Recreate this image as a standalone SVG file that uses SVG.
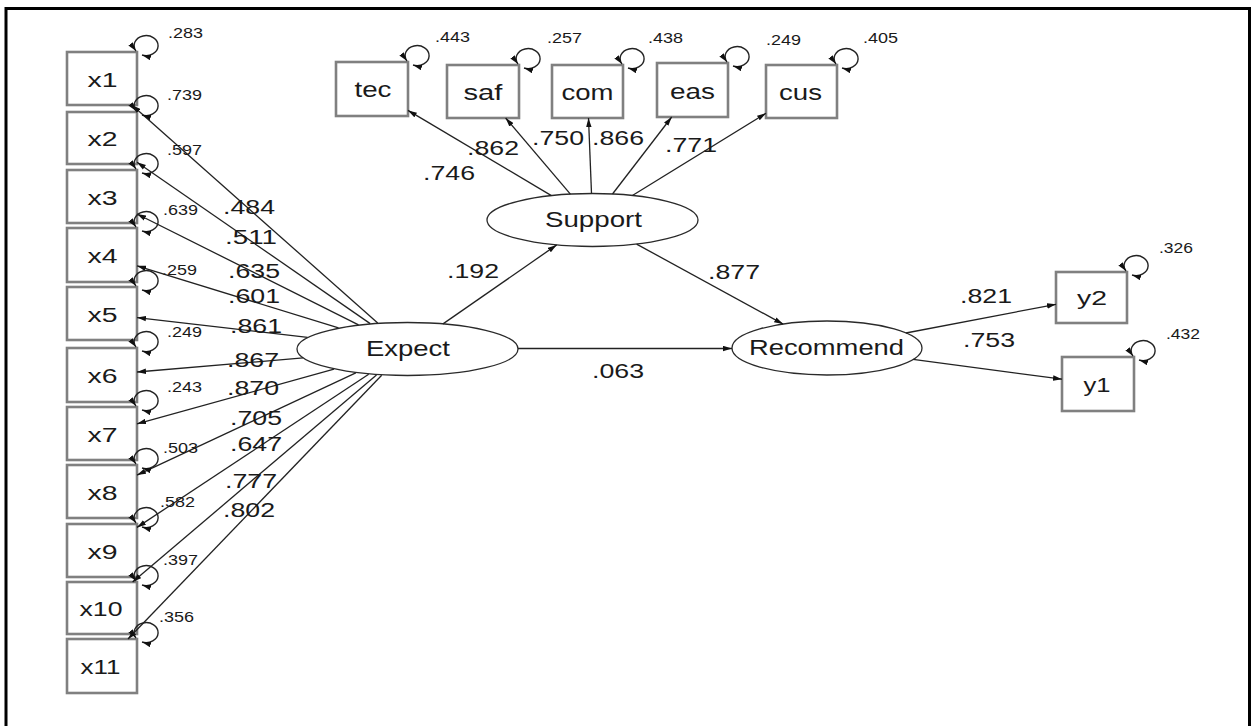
<svg xmlns="http://www.w3.org/2000/svg" width="1252" height="726" viewBox="0 0 1252 726">
<style>
.box{fill:#fff;stroke:#808080;stroke-width:2.6}
.lat{fill:#fff;stroke:#2a2a2a;stroke-width:1.3}
.edge{fill:none;stroke:#222;stroke-width:1.3;marker-end:url(#ah)}
.loop{fill:none;stroke:#222;stroke-width:1.4;marker-start:url(#ah);marker-end:url(#ah)}
text{font-family:"Liberation Sans",Arial,sans-serif;fill:#1a1a1a}
.nl{font-size:20px;text-anchor:middle}
.tl{font-size:22px;text-anchor:middle}
.ll{font-size:22px;text-anchor:middle}
.ld{font-size:20px}
.vr{font-size:14px}
</style>
<defs>
<marker id="ah" viewBox="0 0 10 6" refX="10" refY="3" markerWidth="9" markerHeight="6" markerUnits="userSpaceOnUse" orient="auto-start-reverse"><path d="M0,0 L10,3 L0,6 z" fill="#111"/></marker>
</defs>
<rect width="1252" height="726" fill="#fff"/>
<path d="M6,726 V8.5 H1249.5 V726" fill="none" stroke="#000" stroke-width="3"/>

<g id="x1"><rect class="box" x="67" y="52" width="70" height="53"/><text class="nl" x="102.5" y="86.5" textLength="30" lengthAdjust="spacingAndGlyphs">x1</text></g>
<g id="x2"><rect class="box" x="67" y="112" width="70" height="52"/><text class="nl" x="102.5" y="146" textLength="30" lengthAdjust="spacingAndGlyphs">x2</text></g>
<g id="x3"><rect class="box" x="67" y="170" width="70" height="53"/><text class="nl" x="102.5" y="204.5" textLength="30" lengthAdjust="spacingAndGlyphs">x3</text></g>
<g id="x4"><rect class="box" x="67" y="228" width="70" height="54"/><text class="nl" x="102.5" y="263" textLength="30" lengthAdjust="spacingAndGlyphs">x4</text></g>
<g id="x5"><rect class="box" x="67" y="287" width="70" height="53"/><text class="nl" x="102.5" y="321.5" textLength="30" lengthAdjust="spacingAndGlyphs">x5</text></g>
<g id="x6"><rect class="box" x="67" y="348" width="70" height="54"/><text class="nl" x="102.5" y="383" textLength="30" lengthAdjust="spacingAndGlyphs">x6</text></g>
<g id="x7"><rect class="box" x="67" y="407" width="70" height="53"/><text class="nl" x="102.5" y="441.5" textLength="30" lengthAdjust="spacingAndGlyphs">x7</text></g>
<g id="x8"><rect class="box" x="67" y="465" width="70" height="53"/><text class="nl" x="102.5" y="499.5" textLength="30" lengthAdjust="spacingAndGlyphs">x8</text></g>
<g id="x9"><rect class="box" x="67" y="524" width="70" height="53"/><text class="nl" x="102.5" y="558.5" textLength="30" lengthAdjust="spacingAndGlyphs">x9</text></g>
<g id="x10"><rect class="box" x="67" y="582" width="70" height="52"/><text class="nl" x="101" y="616" textLength="43" lengthAdjust="spacingAndGlyphs">x10</text></g>
<g id="x11"><rect class="box" x="67" y="639" width="70" height="54"/><text class="nl" x="100.5" y="673.5" textLength="40" lengthAdjust="spacingAndGlyphs">x11</text></g>

<g id="tec"><rect class="box" x="336" y="62" width="72" height="54"/><text class="tl" x="373" y="97" textLength="37" lengthAdjust="spacingAndGlyphs">tec</text></g>
<g id="saf"><rect class="box" x="447" y="65" width="72" height="53"/><text class="tl" x="483" y="100" textLength="39" lengthAdjust="spacingAndGlyphs">saf</text></g>
<g id="com"><rect class="box" x="552" y="65" width="71" height="53"/><text class="tl" x="587.5" y="100" textLength="52" lengthAdjust="spacingAndGlyphs">com</text></g>
<g id="eas"><rect class="box" x="657" y="63" width="71" height="54"/><text class="tl" x="692.5" y="98.5" textLength="45" lengthAdjust="spacingAndGlyphs">eas</text></g>
<g id="cus"><rect class="box" x="766" y="65" width="71" height="53"/><text class="tl" x="800.5" y="100" textLength="43" lengthAdjust="spacingAndGlyphs">cus</text></g>

<g id="y2"><rect class="box" x="1056" y="272" width="71" height="51"/><text class="nl" x="1092" y="305" textLength="30" lengthAdjust="spacingAndGlyphs">y2</text></g>
<g id="y1"><rect class="box" x="1062" y="357" width="72" height="54"/><text class="nl" x="1097" y="392" textLength="27" lengthAdjust="spacingAndGlyphs">y1</text></g>

<g id="Expect"><ellipse class="lat" cx="407.5" cy="349" rx="110.5" ry="26.5"/><text class="ll" x="408" y="356" textLength="84" lengthAdjust="spacingAndGlyphs">Expect</text></g>
<g id="Support"><ellipse class="lat" cx="592.5" cy="220" rx="105.5" ry="26.5"/><text class="ll" x="593.5" y="227" textLength="97" lengthAdjust="spacingAndGlyphs">Support</text></g>
<g id="Recommend"><ellipse class="lat" cx="827" cy="348" rx="95" ry="27"/><text class="ll" x="826.5" y="355" textLength="155" lengthAdjust="spacingAndGlyphs">Recommend</text></g>

<g id="connectors">
<path class="edge" d="M377.7,323 L131.9,105"/>
<path class="edge" d="M370.2,323.6 L137,162.2"/>
<path class="edge" d="M358.5,324.8 L137,214"/>
<path class="edge" d="M338.5,327.9 L137,265.8"/>
<path class="edge" d="M307.6,337.4 L137,317.6"/>
<path class="edge" d="M303.1,357.9 L137,372"/>
<path class="edge" d="M334,369.2 L137,423.8"/>
<path class="edge" d="M355.8,372.9 L137,475.1"/>
<path class="edge" d="M368.7,374.3 L137,527.4"/>
<path class="edge" d="M376.5,374.9 L132.6,582"/>
<path class="edge" d="M381.7,375.3 L128,639"/>
<path class="edge" d="M551.4,195.6 L408,110.4"/>
<path class="edge" d="M570.4,194.1 L505.6,118"/>
<path class="edge" d="M591.5,193.5 L588.5,118"/>
<path class="edge" d="M612.5,194 L671.7,117"/>
<path class="edge" d="M632.4,195.5 L766,113.3"/>
<path class="edge" d="M443,323.9 L556.7,244.9"/>
<path class="edge" d="M636.6,244.1 L783.1,324.1"/>
<path class="edge" d="M518,348.5 L732,348.5"/>
<path class="edge" d="M905.9,333 L1056,304.3"/>
<path class="edge" d="M913.1,359.4 L1062,379.2"/>
<path class="loop" d="M136,51 A12 10 0 1 1 142,55"/>
<path class="loop" d="M136,111 A12 10 0 1 1 142,115"/>
<path class="loop" d="M136,169 A12 10 0 1 1 142,173"/>
<path class="loop" d="M136,227 A12 10 0 1 1 142,231"/>
<path class="loop" d="M136,286 A12 10 0 1 1 142,290"/>
<path class="loop" d="M136,347 A12 10 0 1 1 142,351"/>
<path class="loop" d="M136,406 A12 10 0 1 1 142,410"/>
<path class="loop" d="M136,464 A12 10 0 1 1 142,468"/>
<path class="loop" d="M136,523 A12 10 0 1 1 142,527"/>
<path class="loop" d="M136,581 A12 10 0 1 1 142,585"/>
<path class="loop" d="M136,638 A12 10 0 1 1 142,642"/>
<path class="loop" d="M407,61 A12 10 0 1 1 413,65"/>
<path class="loop" d="M518,64 A12 10 0 1 1 524,68"/>
<path class="loop" d="M622,64 A12 10 0 1 1 628,68"/>
<path class="loop" d="M727,62 A12 10 0 1 1 733,66"/>
<path class="loop" d="M836,64 A12 10 0 1 1 842,68"/>
<path class="loop" d="M1126,271 A12 10 0 1 1 1132,275"/>
<path class="loop" d="M1133,356 A12 10 0 1 1 1139,360"/>
</g>

<g id="variances">
<text class="vr" x="168" y="38" textLength="35" lengthAdjust="spacingAndGlyphs">.283</text>
<text class="vr" x="167" y="100" textLength="35" lengthAdjust="spacingAndGlyphs">.739</text>
<text class="vr" x="167" y="155" textLength="35" lengthAdjust="spacingAndGlyphs">.597</text>
<text class="vr" x="163" y="215" textLength="35" lengthAdjust="spacingAndGlyphs">.639</text>
<text class="vr" x="162" y="275" textLength="35" lengthAdjust="spacingAndGlyphs">.259</text>
<text class="vr" x="167" y="337" textLength="35" lengthAdjust="spacingAndGlyphs">.249</text>
<text class="vr" x="167" y="392" textLength="35" lengthAdjust="spacingAndGlyphs">.243</text>
<text class="vr" x="163" y="453" textLength="35" lengthAdjust="spacingAndGlyphs">.503</text>
<text class="vr" x="160" y="507" textLength="35" lengthAdjust="spacingAndGlyphs">.582</text>
<text class="vr" x="163" y="565" textLength="35" lengthAdjust="spacingAndGlyphs">.397</text>
<text class="vr" x="159" y="622" textLength="35" lengthAdjust="spacingAndGlyphs">.356</text>
<text class="vr" x="435" y="42" textLength="35" lengthAdjust="spacingAndGlyphs">.443</text>
<text class="vr" x="547" y="43" textLength="35" lengthAdjust="spacingAndGlyphs">.257</text>
<text class="vr" x="648" y="43" textLength="35" lengthAdjust="spacingAndGlyphs">.438</text>
<text class="vr" x="766" y="45" textLength="35" lengthAdjust="spacingAndGlyphs">.249</text>
<text class="vr" x="863" y="43" textLength="35" lengthAdjust="spacingAndGlyphs">.405</text>
<text class="vr" x="1159" y="253" textLength="34" lengthAdjust="spacingAndGlyphs">.326</text>
<text class="vr" x="1166" y="339" textLength="34" lengthAdjust="spacingAndGlyphs">.432</text>
</g>

<g id="loadings">
<text class="ld" x="223" y="214" textLength="52" lengthAdjust="spacingAndGlyphs">.484</text>
<text class="ld" x="225" y="244" textLength="52" lengthAdjust="spacingAndGlyphs">.511</text>
<text class="ld" x="228" y="278" textLength="52" lengthAdjust="spacingAndGlyphs">.635</text>
<text class="ld" x="228" y="303" textLength="52" lengthAdjust="spacingAndGlyphs">.601</text>
<text class="ld" x="230" y="333" textLength="52" lengthAdjust="spacingAndGlyphs">.861</text>
<text class="ld" x="227" y="367" textLength="52" lengthAdjust="spacingAndGlyphs">.867</text>
<text class="ld" x="227" y="395" textLength="52" lengthAdjust="spacingAndGlyphs">.870</text>
<text class="ld" x="230" y="425" textLength="52" lengthAdjust="spacingAndGlyphs">.705</text>
<text class="ld" x="230" y="451" textLength="52" lengthAdjust="spacingAndGlyphs">.647</text>
<text class="ld" x="225" y="488" textLength="52" lengthAdjust="spacingAndGlyphs">.777</text>
<text class="ld" x="223" y="517" textLength="52" lengthAdjust="spacingAndGlyphs">.802</text>
<text class="ld" x="423" y="180" textLength="52" lengthAdjust="spacingAndGlyphs">.746</text>
<text class="ld" x="467" y="155" textLength="52" lengthAdjust="spacingAndGlyphs">.862</text>
<text class="ld" x="532" y="145" textLength="52" lengthAdjust="spacingAndGlyphs">.750</text>
<text class="ld" x="592" y="145" textLength="52" lengthAdjust="spacingAndGlyphs">.866</text>
<text class="ld" x="665" y="152" textLength="52" lengthAdjust="spacingAndGlyphs">.771</text>
<text class="ld" x="447" y="278" textLength="52" lengthAdjust="spacingAndGlyphs">.192</text>
<text class="ld" x="708" y="279" textLength="52" lengthAdjust="spacingAndGlyphs">.877</text>
<text class="ld" x="592" y="378" textLength="52" lengthAdjust="spacingAndGlyphs">.063</text>
<text class="ld" x="960" y="303" textLength="52" lengthAdjust="spacingAndGlyphs">.821</text>
<text class="ld" x="963" y="347" textLength="52" lengthAdjust="spacingAndGlyphs">.753</text>
</g>
</svg>
